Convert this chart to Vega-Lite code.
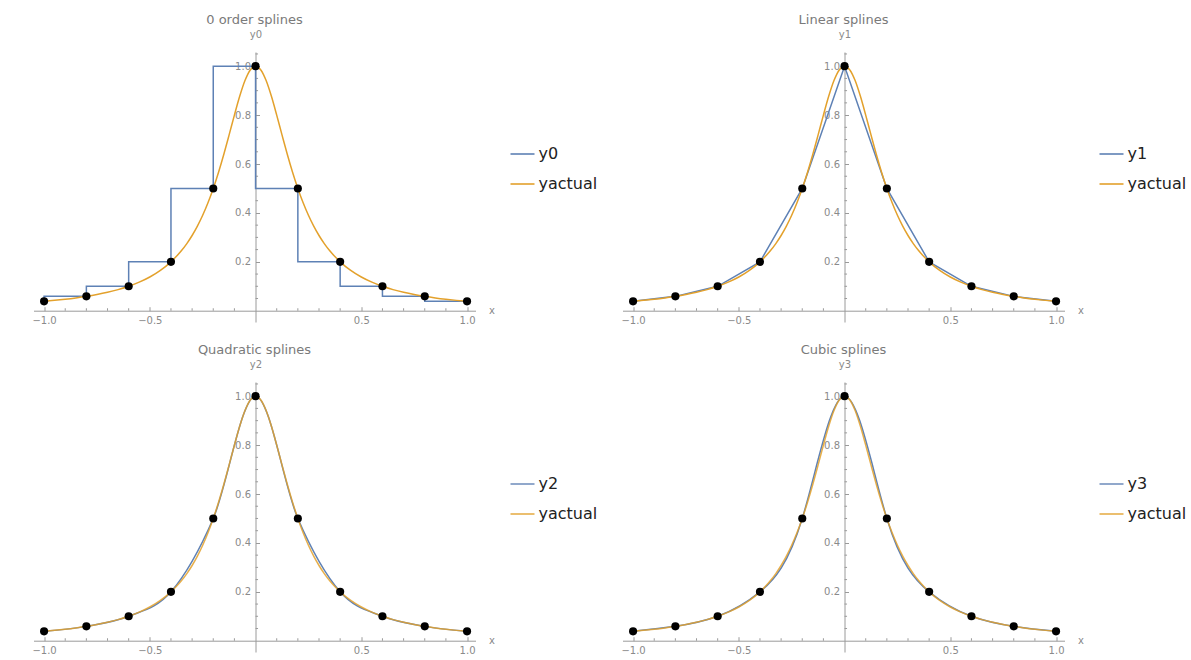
{
  "$schema": "https://vega.github.io/schema/vega-lite/v6.json",
  "background": "white",
  "padding": {"left": 31.5, "top": 14, "right": 5, "bottom": 5},
  "bounds": "flush",
  "columns": 2,
  "spacing": {"row": 60, "column": 147},
  "resolve": {"scale": {"color": "independent"}},
  "config": {
    "view": {"stroke": null},
    "axis": {
      "domainColor": "#9a9a9a", "tickColor": "#9a9a9a", "labelColor": "#8a8a8a",
      "labelFont": "DejaVu Sans", "labelFontSize": 10, "titleFont": "DejaVu Sans",
      "titleFontSize": 10, "titleColor": "#8a8a8a", "titleFontWeight": "normal",
      "grid": false, "labelFlush": false, "tickWidth": 1, "domainWidth": 1, "tickSize": -4, "format": ".1f"
    },
    "axisX": {"orient": "bottom", "offset": -11.3, "titleX": 455, "titleY": 0, "titleAngle": 0, "titleAlign": "left", "titleBaseline": "middle", "labelPadding": 14, "labelBaseline": "middle"},
    "axisY": {"orient": "left", "offset": -222, "titleX": 0, "titleY": -18, "titleAngle": 0, "titleAlign": "center", "titleBaseline": "middle", "labelPadding": 9, "labelBaseline": "middle"},
    "title": {"font": "DejaVu Sans", "fontSize": 13, "fontWeight": "normal", "color": "#7a7a7a", "anchor": "middle", "frame": "group", "offset": 2},
    "legend": {"labelFont": "DejaVu Sans", "labelFontSize": 16, "labelColor": "#222222", "symbolType": "stroke", "symbolSize": 576, "symbolStrokeWidth": 1.6, "rowPadding": 9, "padding": 0, "labelOffset": 3, "orient": "none", "legendX": 476, "legendY": 89}
  },
  "datasets": {
    "xminor": [{"t": -0.9}, {"t": -0.8}, {"t": -0.7}, {"t": -0.6}, {"t": -0.4}, {"t": -0.3}, {"t": -0.2}, {"t": -0.1}, {"t": 0.1}, {"t": 0.2}, {"t": 0.3}, {"t": 0.4}, {"t": 0.6}, {"t": 0.7}, {"t": 0.8}, {"t": 0.9}],
    "yminor": [{"t": 0.05}, {"t": 0.1}, {"t": 0.15}, {"t": 0.25}, {"t": 0.3}, {"t": 0.35}, {"t": 0.45}, {"t": 0.5}, {"t": 0.55}, {"t": 0.65}, {"t": 0.7}, {"t": 0.75}, {"t": 0.85}, {"t": 0.9}, {"t": 0.95}, {"t": 1.05}],
    "nodes": [
      {"x": -1, "y": 0.03846}, {"x": -0.8, "y": 0.05882}, {"x": -0.6, "y": 0.1}, {"x": -0.4, "y": 0.2},
      {"x": -0.2, "y": 0.5}, {"x": 0, "y": 1}, {"x": 0.2, "y": 0.5}, {"x": 0.4, "y": 0.2},
      {"x": 0.6, "y": 0.1}, {"x": 0.8, "y": 0.05882}, {"x": 1, "y": 0.03846}
    ],
    "actual": [
      {"x": -1, "y": 0.03846}, {"x": -0.95, "y": 0.04244}, {"x": -0.9, "y": 0.04706}, {"x": -0.85, "y": 0.05246},
      {"x": -0.8, "y": 0.05882}, {"x": -0.75, "y": 0.06639}, {"x": -0.7, "y": 0.07547}, {"x": -0.65, "y": 0.08649},
      {"x": -0.6, "y": 0.1}, {"x": -0.55, "y": 0.11679}, {"x": -0.5, "y": 0.13793}, {"x": -0.45, "y": 0.16495},
      {"x": -0.4, "y": 0.2}, {"x": -0.375, "y": 0.22145}, {"x": -0.35, "y": 0.24615}, {"x": -0.325, "y": 0.27468},
      {"x": -0.3, "y": 0.30769}, {"x": -0.275, "y": 0.34595}, {"x": -0.25, "y": 0.39024}, {"x": -0.225, "y": 0.44138},
      {"x": -0.2, "y": 0.5}, {"x": -0.175, "y": 0.56637}, {"x": -0.15, "y": 0.64}, {"x": -0.125, "y": 0.7191},
      {"x": -0.1, "y": 0.8}, {"x": -0.075, "y": 0.87671}, {"x": -0.05, "y": 0.94118}, {"x": -0.025, "y": 0.98462},
      {"x": 0, "y": 1},
      {"x": 0.025, "y": 0.98462}, {"x": 0.05, "y": 0.94118}, {"x": 0.075, "y": 0.87671}, {"x": 0.1, "y": 0.8},
      {"x": 0.125, "y": 0.7191}, {"x": 0.15, "y": 0.64}, {"x": 0.175, "y": 0.56637}, {"x": 0.2, "y": 0.5},
      {"x": 0.225, "y": 0.44138}, {"x": 0.25, "y": 0.39024}, {"x": 0.275, "y": 0.34595}, {"x": 0.3, "y": 0.30769},
      {"x": 0.325, "y": 0.27468}, {"x": 0.35, "y": 0.24615}, {"x": 0.375, "y": 0.22145}, {"x": 0.4, "y": 0.2},
      {"x": 0.45, "y": 0.16495}, {"x": 0.5, "y": 0.13793}, {"x": 0.55, "y": 0.11679}, {"x": 0.6, "y": 0.1},
      {"x": 0.65, "y": 0.08649}, {"x": 0.7, "y": 0.07547}, {"x": 0.75, "y": 0.06639}, {"x": 0.8, "y": 0.05882},
      {"x": 0.85, "y": 0.05246}, {"x": 0.9, "y": 0.04706}, {"x": 0.95, "y": 0.04244}, {"x": 1, "y": 0.03846}
    ]
  },
  "concat": [
    {
      "width": 442, "height": 270,
      "title": "0 order splines",
      "layer": [
        {"data": {"name": "xminor"}, "mark": {"type": "rule", "color": "#9a9a9a", "strokeWidth": 1},
         "encoding": {"x": {"field": "t", "type": "quantitative", "scale": {"domain": [-1.05, 1.04], "nice": false, "zero": false}, "axis": {"values": [-1, -0.5, 0.5, 1], "title": "x"}}, "y": {"datum": 0, "type": "quantitative", "scale": {"domain": [-0.046, 1.058], "nice": false, "zero": false}, "axis": {"values": [0.2, 0.4, 0.6, 0.8, 1], "title": "y0"}}, "y2": {"datum": 0.0102}}},
        {"data": {"name": "yminor"}, "mark": {"type": "rule", "color": "#9a9a9a", "strokeWidth": 1},
         "encoding": {"y": {"field": "t", "type": "quantitative"}, "x": {"datum": 0, "type": "quantitative"}, "x2": {"datum": 0.0118}}},
        {
          "data": {"name": "nodes"},
          "mark": {"type": "line", "interpolate": "step-before", "strokeWidth": 1.5},
          "encoding": {
            "x": {"field": "x", "type": "quantitative"},
            "y": {"field": "y", "type": "quantitative"},
            "color": {"datum": "y0", "type": "nominal", "scale": {"domain": ["y0", "yactual"], "range": ["#5E81B5", "#E3A12C"]}, "legend": {"title": null}}
          }
        },
        {
          "data": {"name": "actual"},
          "mark": {"type": "line", "interpolate": "monotone", "strokeWidth": 1.5},
          "encoding": {"x": {"field": "x", "type": "quantitative"}, "y": {"field": "y", "type": "quantitative"}, "color": {"datum": "yactual", "type": "nominal"}}
        },
        {
          "data": {"name": "nodes"},
          "mark": {"type": "circle", "size": 66, "color": "black", "opacity": 1},
          "encoding": {"x": {"field": "x", "type": "quantitative"}, "y": {"field": "y", "type": "quantitative"}}
        }
      ]
    },
    {
      "width": 442, "height": 270,
      "title": "Linear splines",
      "layer": [
        {"data": {"name": "xminor"}, "mark": {"type": "rule", "color": "#9a9a9a", "strokeWidth": 1},
         "encoding": {"x": {"field": "t", "type": "quantitative", "scale": {"domain": [-1.05, 1.04], "nice": false, "zero": false}, "axis": {"values": [-1, -0.5, 0.5, 1], "title": "x"}}, "y": {"datum": 0, "type": "quantitative", "scale": {"domain": [-0.046, 1.058], "nice": false, "zero": false}, "axis": {"values": [0.2, 0.4, 0.6, 0.8, 1], "title": "y1"}}, "y2": {"datum": 0.0102}}},
        {"data": {"name": "yminor"}, "mark": {"type": "rule", "color": "#9a9a9a", "strokeWidth": 1},
         "encoding": {"y": {"field": "t", "type": "quantitative"}, "x": {"datum": 0, "type": "quantitative"}, "x2": {"datum": 0.0118}}},
        {
          "data": {"name": "nodes"},
          "mark": {"type": "line", "interpolate": "linear", "strokeWidth": 1.5},
          "encoding": {
            "x": {"field": "x", "type": "quantitative"},
            "y": {"field": "y", "type": "quantitative"},
            "color": {"datum": "y1", "type": "nominal", "scale": {"domain": ["y1", "yactual"], "range": ["#5E81B5", "#E3A12C"]}, "legend": {"title": null}}
          }
        },
        {
          "data": {"name": "actual"},
          "mark": {"type": "line", "interpolate": "monotone", "strokeWidth": 1.5},
          "encoding": {"x": {"field": "x", "type": "quantitative"}, "y": {"field": "y", "type": "quantitative"}, "color": {"datum": "yactual", "type": "nominal"}}
        },
        {
          "data": {"name": "nodes"},
          "mark": {"type": "circle", "size": 66, "color": "black", "opacity": 1},
          "encoding": {"x": {"field": "x", "type": "quantitative"}, "y": {"field": "y", "type": "quantitative"}}
        }
      ]
    },
    {
      "width": 442, "height": 270,
      "title": "Quadratic splines",
      "layer": [
        {"data": {"name": "xminor"}, "mark": {"type": "rule", "color": "#9a9a9a", "strokeWidth": 1},
         "encoding": {"x": {"field": "t", "type": "quantitative", "scale": {"domain": [-1.05, 1.04], "nice": false, "zero": false}, "axis": {"values": [-1, -0.5, 0.5, 1], "title": "x"}}, "y": {"datum": 0, "type": "quantitative", "scale": {"domain": [-0.046, 1.058], "nice": false, "zero": false}, "axis": {"values": [0.2, 0.4, 0.6, 0.8, 1], "title": "y2"}}, "y2": {"datum": 0.0102}}},
        {"data": {"name": "yminor"}, "mark": {"type": "rule", "color": "#9a9a9a", "strokeWidth": 1},
         "encoding": {"y": {"field": "t", "type": "quantitative"}, "x": {"datum": 0, "type": "quantitative"}, "x2": {"datum": 0.0118}}},
        {
          "data": {"name": "nodes"},
          "mark": {"type": "line", "interpolate": "monotone", "strokeWidth": 1.5},
          "encoding": {
            "x": {"field": "x", "type": "quantitative"},
            "y": {"field": "y", "type": "quantitative"},
            "color": {"datum": "y2", "type": "nominal", "scale": {"domain": ["y2", "yactual"], "range": ["#5E81B5", "#E3A12C"]}, "legend": {"title": null}}
          }
        },
        {
          "data": {"name": "actual"},
          "mark": {"type": "line", "interpolate": "monotone", "strokeWidth": 1.5, "opacity": 0.85},
          "encoding": {"x": {"field": "x", "type": "quantitative"}, "y": {"field": "y", "type": "quantitative"}, "color": {"datum": "yactual", "type": "nominal"}}
        },
        {
          "data": {"name": "nodes"},
          "mark": {"type": "circle", "size": 66, "color": "black", "opacity": 1},
          "encoding": {"x": {"field": "x", "type": "quantitative"}, "y": {"field": "y", "type": "quantitative"}}
        }
      ]
    },
    {
      "width": 442, "height": 270,
      "title": "Cubic splines",
      "layer": [
        {"data": {"name": "xminor"}, "mark": {"type": "rule", "color": "#9a9a9a", "strokeWidth": 1},
         "encoding": {"x": {"field": "t", "type": "quantitative", "scale": {"domain": [-1.05, 1.04], "nice": false, "zero": false}, "axis": {"values": [-1, -0.5, 0.5, 1], "title": "x"}}, "y": {"datum": 0, "type": "quantitative", "scale": {"domain": [-0.046, 1.058], "nice": false, "zero": false}, "axis": {"values": [0.2, 0.4, 0.6, 0.8, 1], "title": "y3"}}, "y2": {"datum": 0.0102}}},
        {"data": {"name": "yminor"}, "mark": {"type": "rule", "color": "#9a9a9a", "strokeWidth": 1},
         "encoding": {"y": {"field": "t", "type": "quantitative"}, "x": {"datum": 0, "type": "quantitative"}, "x2": {"datum": 0.0118}}},
        {
          "data": {"name": "nodes"},
          "mark": {"type": "line", "interpolate": "natural", "strokeWidth": 1.5},
          "encoding": {
            "x": {"field": "x", "type": "quantitative"},
            "y": {"field": "y", "type": "quantitative"},
            "color": {"datum": "y3", "type": "nominal", "scale": {"domain": ["y3", "yactual"], "range": ["#5E81B5", "#E3A12C"]}, "legend": {"title": null}}
          }
        },
        {
          "data": {"name": "actual"},
          "mark": {"type": "line", "interpolate": "monotone", "strokeWidth": 1.5, "opacity": 0.85},
          "encoding": {"x": {"field": "x", "type": "quantitative"}, "y": {"field": "y", "type": "quantitative"}, "color": {"datum": "yactual", "type": "nominal"}}
        },
        {
          "data": {"name": "nodes"},
          "mark": {"type": "circle", "size": 66, "color": "black", "opacity": 1},
          "encoding": {"x": {"field": "x", "type": "quantitative"}, "y": {"field": "y", "type": "quantitative"}}
        }
      ]
    }
  ]
}
